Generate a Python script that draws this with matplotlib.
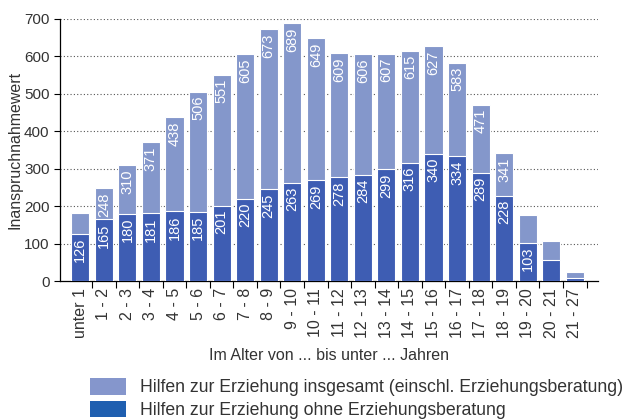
import numpy as np
import matplotlib
matplotlib.use("Agg")
import matplotlib.pyplot as plt
from matplotlib.patches import Patch

plt.rcParams['font.family'] = ['Liberation Sans', 'DejaVu Sans']

# Altersgruppen und Werte
ages = ['unter 1', '1 - 2', '2 - 3', '3 - 4', '4 - 5', '5 - 6', '6 - 7', '7 - 8',
        '8 - 9', '9 - 10', '10 - 11', '11 - 12', '12 - 13', '13 - 14', '14 - 15',
        '15 - 16', '16 - 17', '17 - 18', '18 - 19', '19 - 20', '20 - 21', '21 - 27']
insgesamt = [182, 248, 310, 371, 438, 506, 551, 605, 673, 689, 649, 609, 606,
             607, 615, 627, 583, 471, 341, 176, 108, 25]
ohne_eb = [126, 165, 180, 181, 186, 185, 201, 220, 245, 263, 269, 278, 284,
           299, 316, 340, 334, 289, 228, 103, 56, 9]

light = '#8497cb'
dark = '#3e5db3'
txt = '#333333'

fig = plt.figure(figsize=(6.32, 4.19), dpi=100)
ax = fig.add_axes([0.095, 0.329, 0.851, 0.626])

x = np.arange(len(ages))
ax.bar(x, insgesamt, width=0.77, color=light, edgecolor='white', linewidth=0.8, zorder=2)
ax.bar(x, ohne_eb, width=0.77, color=dark, edgecolor='white', linewidth=0.8, zorder=3)

for xi, t, d in zip(x, insgesamt, ohne_eb):
    if t - d >= 80:
        ax.annotate(str(t), (xi, t), xytext=(0, -3), textcoords='offset points',
                    rotation=90, ha='center', va='top', color='white', fontsize=10.5, zorder=4)
    if d >= 100:
        ax.annotate(str(d), (xi, d), xytext=(0, -3), textcoords='offset points',
                    rotation=90, ha='center', va='top', color='white', fontsize=10.5, zorder=4)

ax.set_ylim(0, 700)
ax.set_xlim(-0.86, len(ages) - 1 + 0.98)
ax.set_yticks(range(0, 701, 100))
ax.set_xticks(x)
ax.set_xticklabels(ages, rotation=90, fontsize=11.5, color=txt)
ax.tick_params(axis='x', which='major', length=0, pad=5)
ax.set_xticks(x + 0.5, minor=True)
ax.tick_params(axis='x', which='minor', length=5, direction='out', width=0.8)
ax.tick_params(axis='y', labelsize=11, colors='black', labelcolor=txt, length=4, width=0.8)

for v in range(100, 701, 100):
    ax.axhline(v, color='#555555', linestyle=(0, (1, 2)), linewidth=0.8, zorder=1)

for s in ['top', 'right']:
    ax.spines[s].set_visible(False)
ax.spines['left'].set_linewidth(0.9)
ax.spines['bottom'].set_linewidth(0.9)

ax.set_ylabel('Inanspruchnahmewert', fontsize=11.5, color=txt, labelpad=1)
ax.set_xlabel('Im Alter von ... bis unter ... Jahren', fontsize=11.5, color=txt, labelpad=7)

handles = [Patch(facecolor='#8596cc', edgecolor='none'),
           Patch(facecolor='#1f5fb0', edgecolor='none')]
fig.legend(handles, ['Hilfen zur Erziehung insgesamt (einschl. Erziehungsberatung)',
                     'Hilfen zur Erziehung ohne Erziehungsberatung'],
           loc='lower left', bbox_to_anchor=(0.142, 0.0), frameon=False, fontsize=12.7,
           borderpad=0, borderaxespad=0,
           handlelength=2.05, handleheight=1.1, handletextpad=0.8, labelspacing=0.25,
           labelcolor=txt)

fig.savefig('out.png', dpi=100)
